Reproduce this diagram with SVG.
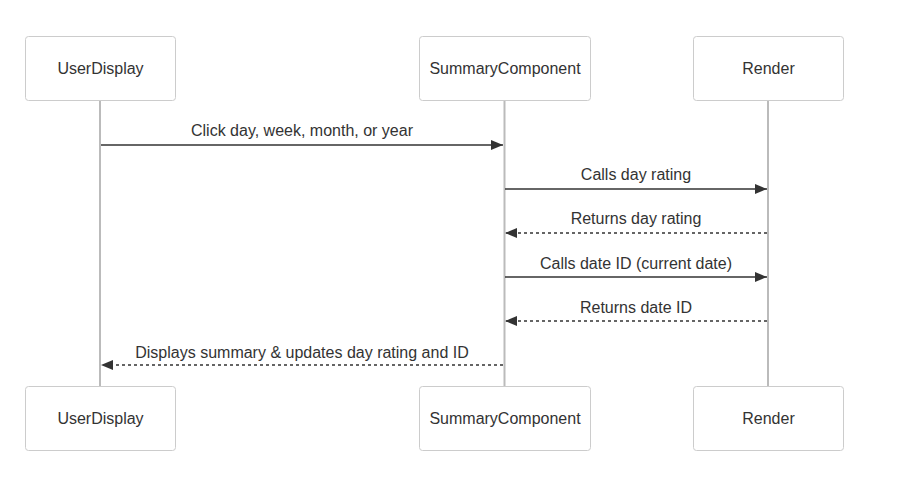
<svg xmlns="http://www.w3.org/2000/svg" width="901" height="485" viewBox="0 0 901 485">
<style>
.box{fill:#fff;stroke:#ccc;stroke-width:1}
.lbl{font-family:"Liberation Sans",Arial,sans-serif;font-size:16px;fill:#333;text-anchor:middle;dominant-baseline:central}
.life{stroke:#bbb;stroke-width:2}
.msg{stroke:#333;stroke-width:1.5;fill:none}
.dash{stroke-dasharray:3,3}
.mt{font-family:"Liberation Sans",Arial,sans-serif;font-size:16px;fill:#333;text-anchor:middle}
</style>
<defs>
<marker id="ah" viewBox="0 0 12 10" refX="12" refY="5" markerWidth="12" markerHeight="10" markerUnits="userSpaceOnUse" orient="auto">
<path d="M0,0 L12,5 L0,10 z" fill="#333"/>
</marker>
</defs>
<rect width="901" height="485" fill="#fff"/>
<g id="lifelines">
<line class="life" x1="100" y1="100" x2="100" y2="386"/>
<line class="life" x1="504.5" y1="100" x2="504.5" y2="386"/>
<line class="life" x1="768" y1="100" x2="768" y2="386"/>
</g>
<g id="UserDisplay">
<rect class="box" x="25.5" y="36.5" width="150" height="64" rx="3"/>
<text class="lbl" x="100.5" y="68.5">UserDisplay</text>
</g>
<g id="SummaryComponent">
<rect class="box" x="419.5" y="36.5" width="171" height="64" rx="3"/>
<text class="lbl" x="505" y="68.5">SummaryComponent</text>
</g>
<g id="Render">
<rect class="box" x="693.5" y="36.5" width="150" height="64" rx="3"/>
<text class="lbl" x="768.5" y="68.5">Render</text>
</g>
<g id="UserDisplay-bottom">
<rect class="box" x="25.5" y="386.5" width="150" height="64" rx="3"/>
<text class="lbl" x="100.5" y="418.5">UserDisplay</text>
</g>
<g id="SummaryComponent-bottom">
<rect class="box" x="419.5" y="386.5" width="171" height="64" rx="3"/>
<text class="lbl" x="505" y="418.5">SummaryComponent</text>
</g>
<g id="Render-bottom">
<rect class="box" x="693.5" y="386.5" width="150" height="64" rx="3"/>
<text class="lbl" x="768.5" y="418.5">Render</text>
</g>
<g id="connectors">
<line class="msg" x1="101" y1="145" x2="503" y2="145" marker-end="url(#ah)"/>
<text class="mt" x="302" y="136">Click day, week, month, or year</text>
<line class="msg" x1="505" y1="189" x2="767" y2="189" marker-end="url(#ah)"/>
<text class="mt" x="636" y="180">Calls day rating</text>
<line class="msg dash" x1="767" y1="233" x2="505" y2="233" marker-end="url(#ah)"/>
<text class="mt" x="636" y="224">Returns day rating</text>
<line class="msg" x1="505" y1="277" x2="767" y2="277" marker-end="url(#ah)"/>
<text class="mt" x="636" y="269">Calls date ID (current date)</text>
<line class="msg dash" x1="767" y1="321" x2="505" y2="321" marker-end="url(#ah)"/>
<text class="mt" x="636" y="313">Returns date ID</text>
<line class="msg dash" x1="503" y1="365" x2="101" y2="365" marker-end="url(#ah)"/>
<text class="mt" x="302" y="358">Displays summary &amp; updates day rating and ID</text>
</g>
</svg>
